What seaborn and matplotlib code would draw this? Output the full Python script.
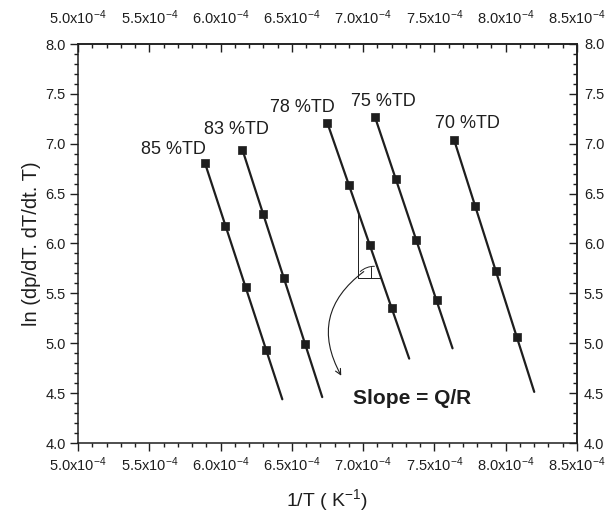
import numpy as np
import pandas as pd
import matplotlib
matplotlib.use('Agg')
import matplotlib.pyplot as plt
from matplotlib.ticker import FixedLocator, FuncFormatter
import seaborn as sb

# values (x in 1/K)
series = ['85 %TD', '83 %TD', '78 %TD', '75 %TD', '70 %TD']
x_85 = [5.891e-4, 6.031e-4, 6.178e-4, 6.320e-4]
y_85 = [6.81, 6.18, 5.56, 4.93]
x_83 = [6.152e-4, 6.299e-4, 6.446e-4, 6.592e-4]
y_83 = [6.94, 6.30, 5.65, 4.99]
x_78 = [6.748e-4, 6.900e-4, 7.048e-4, 7.200e-4]
y_78 = [7.21, 6.59, 5.98, 5.35]
x_75 = [7.083e-4, 7.228e-4, 7.370e-4, 7.515e-4]
y_75 = [7.27, 6.65, 6.04, 5.43]
x_70 = [7.637e-4, 7.786e-4, 7.931e-4, 8.078e-4]
y_70 = [7.04, 6.38, 5.72, 5.06]
# where the fitted lines stop
fit_end = [6.433e-4, 6.713e-4, 7.323e-4, 7.627e-4, 8.20e-4]
# label positions
lab_x = [5.668e-4, 6.108e-4, 6.574e-4, 7.141e-4, 7.735e-4]
lab_y = [6.94, 7.14, 7.36, 7.42, 7.20]

xs = [x_85, x_83, x_78, x_75, x_70]
ys = [y_85, y_83, y_78, y_75, y_70]

pts = pd.concat([pd.DataFrame({'x': x, 'y': y, 'td': s}) for s, x, y in zip(series, xs, ys)])

fits = []
lines = []
for s, x, y, xe in zip(series, xs, ys, fit_end):
    k, b = np.polyfit(x, y, 1)
    fits.append((k, b))
    xl = np.array([x[0], xe])
    lines.append(pd.DataFrame({'x': xl, 'y': k * xl + b, 'td': s}))
lines = pd.concat(lines)

sb.set_style('ticks')
plt.rcParams['font.family'] = ['Liberation Sans', 'DejaVu Sans']
plt.rcParams['mathtext.default'] = 'regular'
ink = '#1e1e1e'

fig = plt.figure(figsize=(6.09, 5.11), dpi=100)
ax = fig.add_axes([78 / 609, 68 / 511, 499 / 609, 399 / 511])

sb.lineplot(data=lines, x='x', y='y', units='td', estimator=None, color=ink, lw=1.6, ax=ax, legend=False)
sb.scatterplot(data=pts, x='x', y='y', marker='s', s=34, color=ink, edgecolor=ink, linewidth=0.5, ax=ax, legend=False, zorder=3)

for s, lx, ly in zip(series, lab_x, lab_y):
    ax.text(lx, ly, s, ha='center', va='center', fontsize=13, color=ink)

# slope triangle on the 78 %TD line
k, b = fits[2]
xv, yb = 6.966e-4, 5.657
ax.plot([xv, xv], [k * xv + b, yb], color=ink, lw=0.7)
ax.plot([xv, (yb - b) / k], [yb, yb], color=ink, lw=0.7)
ax.plot([7.055e-4, 7.055e-4], [yb, 5.76], color=ink, lw=0.7)
ax.annotate('', xy=((5.77 - b) / k, 5.77), xytext=(xv, 5.70),
            arrowprops=dict(arrowstyle='-', color=ink, lw=0.7, connectionstyle='arc3,rad=-0.25'))
ax.annotate('', xy=(6.856e-4, 4.65), xytext=(7.02e-4, 5.735),
            arrowprops=dict(arrowstyle='->', color=ink, lw=0.8, connectionstyle='arc3,rad=0.45'))
ax.text(6.928e-4, 4.45, 'Slope = Q/R', fontsize=15, fontweight='bold', color=ink, va='center')

ax.set_xlim(5.0e-4, 8.5e-4)
ax.set_ylim(4.0, 8.0)

x_major = np.arange(5.0, 8.51, 0.5) * 1e-4
x_minor = np.arange(5.0, 8.51, 0.1) * 1e-4
y_major = np.arange(4.0, 8.01, 0.5)
y_minor = np.arange(4.0, 8.01, 0.1)
xfmt = FuncFormatter(lambda v, p: f'{v * 1e4:.1f}x10$^{{-4}}$')
yfmt = FuncFormatter(lambda v, p: f'{v:.1f}')


def set_ticks(xa=None, ya=None):
    if xa is not None:
        xa.set_major_locator(FixedLocator(x_major))
        xa.set_minor_locator(FixedLocator(x_minor))
        xa.set_major_formatter(xfmt)
    if ya is not None:
        ya.set_major_locator(FixedLocator(y_major))
        ya.set_minor_locator(FixedLocator(y_minor))
        ya.set_major_formatter(yfmt)


set_ticks(ax.xaxis, ax.yaxis)
top = ax.secondary_xaxis('top')
set_ticks(xa=top.xaxis)
right = ax.secondary_yaxis('right')
set_ticks(ya=right.yaxis)

ax.tick_params(which='both', direction='out', colors=ink, labelsize=10.5, width=1)
for a in (top, right):
    a.tick_params(which='both', direction='in', colors=ink, labelsize=10.5, width=1)
top.tick_params(which='major', pad=12)
right.tick_params(which='major', pad=5)
for a in (ax, top, right):
    a.tick_params(which='major', length=5.5)
    a.tick_params(which='minor', length=3)

for sp in list(ax.spines.values()) + [top.spines['top'], right.spines['right']]:
    sp.set_color(ink)
    sp.set_linewidth(1.1)

ax.set_xlabel('1/T ( K$^{-1}$)', fontsize=14, color=ink, labelpad=9)
ax.set_ylabel('ln (dp/dT. dT/dt. T)', fontsize=14.5, color=ink, labelpad=3)

fig.savefig('out.png', dpi=100)
